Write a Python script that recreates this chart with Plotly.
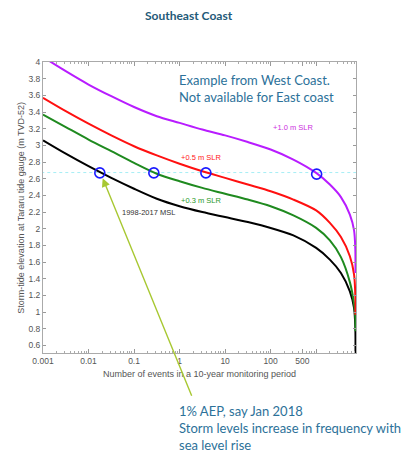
import plotly.graph_objects as go

# ---- data ----
events = [0.001, 0.00316, 0.01, 0.0316, 0.1, 0.316, 1, 3.16, 10, 31.6, 100,
          316, 1000, 2000, 3500, 5500, 6800, 7250, 7300]
msl_1998_2017 = [3.06, 2.90, 2.75, 2.61, 2.48, 2.36, 2.27, 2.20, 2.14, 2.08,
                 2.01, 1.92, 1.77, 1.63, 1.47, 1.25, 1.05, 0.82, 0.47]
slr_0_3 = [3.37, 3.22, 3.07, 2.93, 2.79, 2.66, 2.57, 2.49, 2.42, 2.35,
           2.27, 2.16, 2.01, 1.86, 1.66, 1.36, 1.10, 0.94, 0.77]
slr_0_5 = [3.57, 3.41, 3.26, 3.12, 2.99, 2.88, 2.78, 2.69, 2.61, 2.53,
           2.45, 2.35, 2.22, 2.07, 1.90, 1.67, 1.45, 1.20, 0.97]
slr_1_0 = [4.06, 3.89, 3.73, 3.59, 3.46, 3.35, 3.27, 3.19, 3.12, 3.04,
           2.95, 2.83, 2.67, 2.53, 2.38, 2.17, 1.98, 1.75, 1.47]

aep_events = [0.0177, 0.272, 3.78, 1025]
aep_levels = [2.67, 2.67, 2.67, 2.655]
aep_line_level = 2.674

x_tick_vals = [0.001, 0.01, 0.1, 1, 10, 100, 500, 1000]
x_tick_text = ["0.001", "0.01", "0.1", "1", "10", "100", "500", ""]
y_tick_vals = [0.6, 0.8, 1, 1.2, 1.4, 1.6, 1.8, 2, 2.2, 2.4, 2.6, 2.8,
               3, 3.2, 3.4, 3.6, 3.8, 4]
y_tick_text = ["0.6", "0.8", "1", "1.2", "1.4", "1.6", "1.8", "2", "2.2",
               "2.4", "2.6", "2.8", "3", "3.2", "3.4", "3.6", "3.8", "4"]

series = [
    ("1998-2017 MSL", msl_1998_2017, "#000000"),
    ("+0.3 m SLR", slr_0_3, "#1f8a1f"),
    ("+0.5 m SLR", slr_0_5, "#ff1010"),
    ("+1.0 m SLR", slr_1_0, "#b81cff"),
]

minor_vals = [m * 10 ** d for d in range(-3, 4) for m in range(2, 10)]

fig = go.Figure()

# light cyan dotted reference line
fig.add_trace(go.Scatter(
    x=[events[0] / 2, events[-1] * 1.2], y=[aep_line_level, aep_line_level],
    mode="lines", line=dict(color="#a6eef5", width=1, dash="dot"),
    showlegend=False, hoverinfo="skip"))

for name, ys, col in series:
    fig.add_trace(go.Scatter(x=events, y=ys, mode="lines", name=name,
                             line=dict(color=col, width=2, shape="spline",
                                       smoothing=0.8),
                             showlegend=False))

fig.add_trace(go.Scatter(x=aep_events, y=aep_levels, mode="markers",
                         marker=dict(symbol="circle-open", size=10,
                                     color="#1a1aff",
                                     line=dict(width=1.6, color="#1a1aff")),
                         showlegend=False))

ax_font = dict(family="Liberation Sans, Arial, sans-serif", size=8.5,
               color="#555555")

fig.update_xaxes(type="log", range=[-3, 3.875],
                 tickmode="array", tickvals=x_tick_vals, ticktext=x_tick_text,
                 ticks="inside", ticklen=4, tickcolor="#999999",
                 showline=True, linecolor="#aaaaaa", linewidth=1,
                 mirror="allticks", showgrid=False, zeroline=False,
                 tickfont=ax_font,
                 minor=dict(tickmode="array", tickvals=minor_vals,
                            ticks="inside", ticklen=2, tickcolor="#aaaaaa",
                            showgrid=False))
fig.update_yaxes(range=[0.51, 4], tickmode="array", tickvals=y_tick_vals,
                 ticktext=y_tick_text, ticks="inside", ticklen=3,
                 tickcolor="#999999", showline=True, linecolor="#aaaaaa",
                 linewidth=1, mirror="allticks", showgrid=False,
                 zeroline=False, tickfont=ax_font)

teal = "#2c7199"
annotations = [
    dict(text="<b>Southeast Coast</b>", xref="paper", yref="paper",
         x=0.466, y=1.16, xanchor="center", yanchor="middle",
         showarrow=False,
         font=dict(family="Lato, Open Sans, sans-serif", size=12,
                   color="#1f5a78")),
    dict(text="Example from West Coast.<br>Not available for East coast",
         xref="paper", yref="paper", x=0.428, y=0.909, xanchor="left",
         yanchor="middle", align="left", showarrow=False,
         font=dict(family="Lato, Open Sans, sans-serif", size=13,
                   color=teal)),
    dict(text="1% AEP, say Jan 2018<br>Storm levels increase in frequency with"
              "<br>sea level rise",
         xref="paper", yref="paper", x=0.428, y=-0.258, xanchor="left",
         yanchor="middle", align="left", showarrow=False,
         font=dict(family="Lato, Open Sans, sans-serif", size=13,
                   color=teal)),
    dict(text="Number of events in a 10-year monitoring period",
         xref="paper", yref="paper", x=0.5, y=-0.072, xanchor="center",
         yanchor="middle", showarrow=False,
         font=dict(family="Liberation Sans, Arial, sans-serif", size=9,
                   color="#555555")),
    dict(text="Storm-tide elevation at Tararu tide gauge (m TVD-52)",
         xref="paper", yref="paper", x=-0.073, y=0.5, xanchor="center",
         yanchor="middle", textangle=-90, showarrow=False,
         font=dict(family="Liberation Sans, Arial, sans-serif", size=9,
                   color="#555555")),
    # curve labels
    dict(text="+1.0 m SLR", x=2.49, y=3.21, xref="x", yref="y",
         showarrow=False,
         font=dict(family="Liberation Sans, Arial", size=7.5,
                   color="#cc2fe0")),
    dict(text="+0.5 m SLR", x=0.47, y=2.85, xref="x", yref="y",
         showarrow=False,
         font=dict(family="Liberation Sans, Arial", size=7.5,
                   color="#ff2020")),
    dict(text="+0.3 m SLR", x=0.47, y=2.345, xref="x", yref="y",
         showarrow=False,
         font=dict(family="Liberation Sans, Arial", size=7.5,
                   color="#2a9a2a")),
    dict(text="1998-2017 MSL", x=-0.672, y=2.19, xref="x", yref="y",
         showarrow=False,
         font=dict(family="Liberation Sans, Arial", size=7.5,
                   color="#333333")),
    # yellow-green arrows
    dict(text="", x=-1.689, y=2.605, xref="x", yref="y", showarrow=True,
         ax=89.6, ay=219, arrowhead=2, arrowsize=1.2, arrowwidth=1.4,
         arrowcolor="#a8c832"),
    dict(text="", x=0.543, y=0.498, xref="x", yref="y", showarrow=True,
         ax=-12, ay=43.3, arrowhead=2, arrowsize=1.2, arrowwidth=1.4,
         arrowcolor="#a8c832"),
]

# the page body adds an 8px margin, so the figure is 8px smaller per side
fig.update_layout(width=404, height=451,
                  margin=dict(l=35, r=56, t=54, b=106),
                  paper_bgcolor="white", plot_bgcolor="white",
                  annotations=annotations, showlegend=False)

fig.write_html("out.html")
